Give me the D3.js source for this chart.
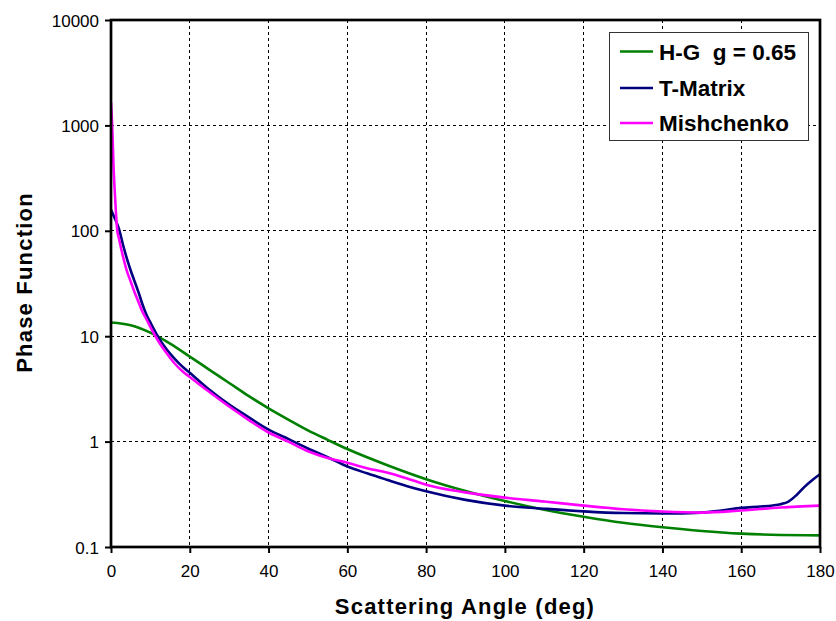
<!DOCTYPE html>
<html><head><meta charset="utf-8">
<script src="https://cdn.jsdelivr.net/npm/d3@7"></script>
<style>
html,body{margin:0;padding:0;background:#fff;}
svg{display:block;font-family:"Liberation Sans",Arial,sans-serif;}
</style></head>
<body>
<svg id="chart" width="836" height="621"></svg>
<script>
// ---- data ----
const xTicks = [0,20,40,60,80,100,120,140,160,180];
const yTicks = [0.1,1,10,100,1000,10000];
const yTickLabels = ["0.1","1","10","100","1000","10000"];
const seriesNames = ["H-G  g = 0.65","T-Matrix","Mishchenko"];
const seriesColors = ["#008000","#000080","#ff00ff"];

const hgAngles = [0,5,10,15,20,25,30,35,40,45,50,55,60,70,80,90,100,110,120,130,140,150,160,170,180];
const hgValues = [13.5,12.7,10.8,8.5,6.4,4.8,3.6,2.7,2.07,1.62,1.28,1.04,0.85,0.6,0.44,0.34,0.273,0.226,0.194,0.17,0.154,0.142,0.134,0.13,0.129];

const tmAngles = [0,1,2,3,4,5,6,7,8,9,10,12,14,16,18,20,25,30,35,40,45,50,55,60,65,70,75,80,90,100,110,120,130,140,150,155,160,165,168,170,172,174,176,178,180];
const tmValues = [158,130,105,75,55,42,33,26,20,16,13.5,9.8,7.6,6.2,5.2,4.5,3.1,2.24,1.7,1.3,1.06,0.86,0.71,0.58,0.5,0.435,0.38,0.338,0.28,0.247,0.231,0.218,0.21,0.208,0.212,0.222,0.235,0.242,0.248,0.255,0.27,0.31,0.37,0.43,0.49];

const msAngles = [0,0.3,0.6,1,1.6,2,3,4,5,6,7,8,9,10,12,14,16,18,20,25,30,35,40,45,50,55,60,65,70,75,80,90,100,110,120,130,140,150,160,170,180];
const msValues = [1650,1000,450,220,100,85,58,42,33,26,21,17,14.5,12.2,9.0,7.0,5.6,4.7,4.1,2.95,2.15,1.6,1.22,1.0,0.81,0.70,0.63,0.56,0.51,0.45,0.39,0.33,0.294,0.27,0.247,0.228,0.217,0.212,0.222,0.237,0.247];

// ---- layout ----
const L = 111, R = 820, T = 20, B = 547;
const svg = d3.select("#chart");
const x = d3.scaleLinear().domain([0,180]).range([L,R]);
const y = d3.scaleLog().domain([0.1,10000]).range([B,T]);

// grid
const grid = svg.append("g").attr("stroke","#000").attr("stroke-width",1).attr("stroke-dasharray","3,3").attr("shape-rendering","crispEdges");
xTicks.filter(d=>d>0 && d<180).forEach(d=>{
  grid.append("line").attr("x1",x(d)).attr("x2",x(d)).attr("y1",T).attr("y2",B);
});
yTicks.filter(d=>d>0.1 && d<10000).forEach(d=>{
  grid.append("line").attr("x1",L).attr("x2",R).attr("y1",y(d)).attr("y2",y(d));
});

// axes
const xAxis = d3.axisBottom(x).tickValues(xTicks).tickSize(6).tickPadding(12).tickFormat(d3.format("d"));
const gx = svg.append("g").attr("transform",`translate(0,${B})`).call(xAxis);
const yAxis = d3.axisLeft(y).tickValues(yTicks).tickSize(6).tickPadding(6).tickFormat((d,i)=>yTickLabels[i]);
const gy = svg.append("g").attr("transform",`translate(${L},0)`).call(yAxis);
[gx,gy].forEach(g=>{
  g.select(".domain").remove();
  g.selectAll(".tick line").attr("stroke","#000").attr("stroke-width",2);
  g.selectAll(".tick text").attr("fill","#000").style("font-size","17px").style("font-family","'Liberation Sans',Arial,sans-serif");
});
gy.selectAll(".tick text").attr("dy","0.36em");

// clip
svg.append("clipPath").attr("id","clip").append("rect").attr("x",L).attr("y",T).attr("width",R-L).attr("height",B-T);

// lines
const line = d3.line().x(d=>x(d[0])).y(d=>y(d[1])).curve(d3.curveMonotoneX);
const series = [
  d3.zip(hgAngles,hgValues),
  d3.zip(tmAngles,tmValues),
  d3.zip(msAngles,msValues)
];
const lg = svg.append("g").attr("clip-path","url(#clip)");
series.forEach((s,i)=>{
  lg.append("path").datum(s).attr("d",line).attr("fill","none")
    .attr("stroke",seriesColors[i]).attr("stroke-width",2.6).attr("stroke-linejoin","round");
});

// frame
svg.append("rect").attr("x",L).attr("y",T).attr("width",R-L).attr("height",B-T)
  .attr("fill","none").attr("stroke","#000").attr("stroke-width",2.7);

// legend
const leg = svg.append("g");
leg.append("rect").attr("x",609.5).attr("y",32.5).attr("width",199).attr("height",108)
  .attr("fill","#fff").attr("stroke","#333").attr("stroke-width",1);
const rowY = [51.5,88,123];
seriesNames.forEach((n,i)=>{
  leg.append("line").attr("x1",620).attr("x2",653).attr("y1",rowY[i]).attr("y2",rowY[i])
    .attr("stroke",seriesColors[i]).attr("stroke-width",2.6);
  leg.append("text").attr("x",659).attr("y",rowY[i]+8).text(n)
    .style("font-size","22.5px").style("font-weight","bold").style("white-space","pre").attr("fill","#000");
});

// axis titles
svg.append("text").attr("x",465).attr("y",614).attr("text-anchor","middle")
  .style("font-size","22px").style("font-weight","bold").style("letter-spacing","1.2px")
  .text("Scattering Angle (deg)");
svg.append("text").attr("transform","translate(32,282.5) rotate(-90)").attr("text-anchor","middle")
  .style("font-size","22px").style("font-weight","bold").style("letter-spacing","1.2px")
  .text("Phase Function");
</script>
</body></html>
